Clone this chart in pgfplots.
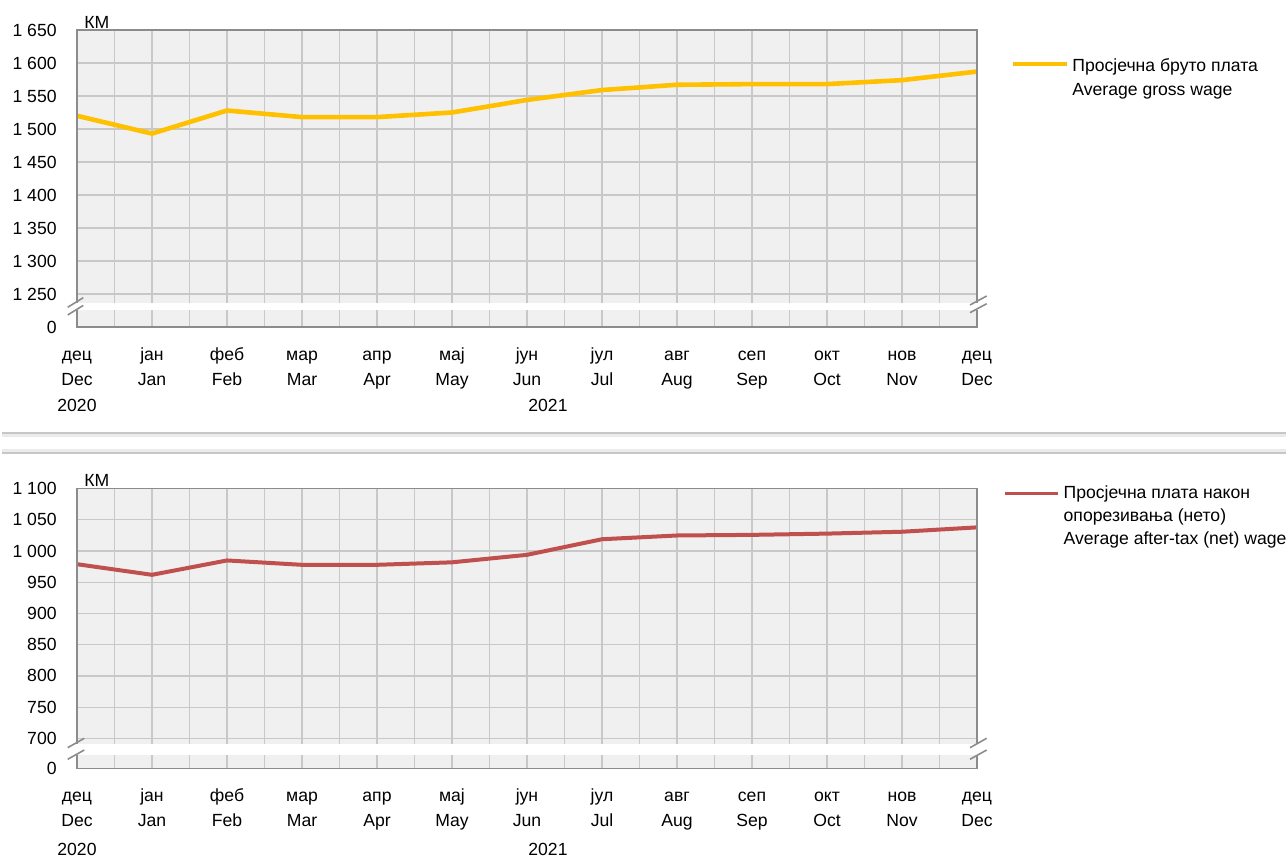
\documentclass[border=0pt]{standalone}
\usepackage{pgfplots}
\pgfplotsset{compat=1.18}
\usepackage{fontspec}
\setmainfont{Liberation Sans}
\definecolor{bg}{HTML}{F0F0F0}
\definecolor{gridc}{HTML}{C8C8C8}
\definecolor{framec}{HTML}{8C8C8C}
\definecolor{gold}{HTML}{FFC000}
\definecolor{wred}{HTML}{C0504D}
\newcommand\lf{\fontsize{8.8}{12.4}\selectfont}
\pgfplotsset{
 brk/.style={scale only axis, width=450pt, xmin=0, xmax=12, xtick={0,...,12},
  minor x tick num=1, grid=both,
  major grid style={gridc, line width=0.6pt}, minor grid style={gridc, line width=0.6pt},
  axis background/.style={fill=bg}, axis line style={draw=none}, tick style={draw=none},
  clip mode=individual,
  ticklabel style={font=\lf},
  yticklabel style={anchor=east, inner sep=0pt, xshift=-10pt}},
 months/.style={xticklabels={{\strut дец\\Dec},{\strut јан\\Jan},{\strut феб\\Feb},{\strut мар\\Mar},{\strut апр\\Apr},{\strut мај\\May},{\strut јун\\Jun},{\strut јул\\Jul},{\strut авг\\Aug},{\strut сеп\\Sep},{\strut окт\\Oct},{\strut нов\\Nov},{\strut дец\\Dec}},
  xticklabel style={align=center, anchor=north, inner sep=0pt, yshift=-7.75pt}},
}
\pgfplotstableread{
m v
0 1520
1 1493
2 1528
3 1518
4 1518
5 1525
6 1544
7 1559
8 1567
9 1568
10 1568
11 1574
12 1587
}\gross
\pgfplotstableread{
m v
0 979
1 962
2 985
3 978
4 978
5 982
6 994
7 1019
8 1025
9 1026
10 1028
11 1031
12 1038
}\net
\begin{document}
\begin{tikzpicture}
\useasboundingbox (0,0) rectangle (643pt,432.5pt);
% ---------- top panel ----------
\begin{axis}[brk, at={(38.5pt,281pt)}, height=136.5pt, ymin=1236.4, ymax=1650,
  ytick={1250,1300,...,1650}, yticklabels={1 250,1 300,1 350,1 400,1 450,1 500,1 550,1 600,1 650},
  xticklabels={}]
\addplot[gold, line width=2.3pt, line join=round] table[x=m,y=v] {\gross};
\draw[framec, line width=0.8pt] (rel axis cs:0,0) -- (rel axis cs:0,1) -- (rel axis cs:1,1) -- (rel axis cs:1,0);
\end{axis}
\begin{axis}[brk, months, at={(38.5pt,269pt)}, height=8.5pt, ymin=0, ymax=1,
  ytick={0}, yticklabels={0}]
\draw[framec, line width=0.8pt] (rel axis cs:0,1) -- (rel axis cs:0,0) -- (rel axis cs:1,0) -- (rel axis cs:1,1);
\end{axis}
\node[font=\lf, anchor=base west, inner sep=0pt] at (42pt,418.25pt) {КМ};
\node[font=\lf, anchor=base, inner sep=0pt] at (38.5pt,226.5pt) {2020};
\node[font=\lf, anchor=base, inner sep=0pt] at (274pt,226.5pt) {2021};
\draw[framec, line width=0.8pt] (33.85pt,278.85pt) -- (41.65pt,283.65pt);
\draw[framec, line width=0.8pt] (33.85pt,275pt) -- (41.65pt,279.8pt);
\draw[framec, line width=0.8pt] (485pt,280pt) -- (493.35pt,284.5pt);
\draw[framec, line width=0.8pt] (485pt,276.15pt) -- (493.35pt,280.65pt);
\draw[gold, line width=1.7pt] (506.5pt,400.5pt) -- (533.5pt,400.5pt);
\node[font=\fontsize{8.8}{12}\selectfont, anchor=base west, inner sep=0pt, align=left] at (536pt,384.5pt) {Просјечна бруто плата\\Average gross wage};
% ---------- separator ----------
\draw[black!22, line width=1pt] (1pt,215.85pt) -- (643pt,215.85pt);
\draw[black!8, line width=1.5pt] (1pt,214.6pt) -- (643pt,214.6pt);
\draw[black!22, line width=1pt] (1pt,205.85pt) -- (643pt,205.85pt);
\draw[black!8, line width=1.5pt] (1pt,207.1pt) -- (643pt,207.1pt);
% ---------- bottom panel ----------
\begin{axis}[brk, at={(38.5pt,60.5pt)}, height=127.65pt, ymin=690.9, ymax=1100,
  ytick={700,750,...,1100}, yticklabels={700,750,800,850,900,950,1 000,1 050,1 100},
  xticklabels={}]
\addplot[wred, line width=2pt, line join=round] table[x=m,y=v] {\net};
\draw[framec, line width=0.8pt] (rel axis cs:0,0) -- (rel axis cs:0,1) -- (rel axis cs:1,1) -- (rel axis cs:1,0);
\end{axis}
\begin{axis}[brk, months, at={(38.5pt,48.15pt)}, height=6.85pt, ymin=0, ymax=1,
  ytick={0}, yticklabels={0}]
\draw[framec, line width=0.8pt] (rel axis cs:0,1) -- (rel axis cs:0,0) -- (rel axis cs:1,0) -- (rel axis cs:1,1);
\end{axis}
\node[font=\lf, anchor=base west, inner sep=0pt] at (42pt,189pt) {КМ};
\node[font=\lf, anchor=base, inner sep=0pt] at (38.5pt,4.65pt) {2020};
\node[font=\lf, anchor=base, inner sep=0pt] at (274pt,4.65pt) {2021};
\draw[framec, line width=0.8pt] (33.85pt,58.65pt) -- (42.15pt,63.35pt);
\draw[framec, line width=0.8pt] (33.85pt,52.85pt) -- (42.15pt,57.5pt);
\draw[framec, line width=0.8pt] (485pt,58.65pt) -- (493.35pt,63.35pt);
\draw[framec, line width=0.8pt] (485pt,52.85pt) -- (493.35pt,57.5pt);
\draw[wred, line width=1.7pt] (502.5pt,185.85pt) -- (529.15pt,185.85pt);
\node[font=\fontsize{8.8}{11.6}\selectfont, anchor=base west, inner sep=0pt, align=left] at (531.65pt,160pt) {Просјечна плата након\\опорезивања (нето)\\Average after-tax (net) wage};
\end{tikzpicture}
\end{document}
